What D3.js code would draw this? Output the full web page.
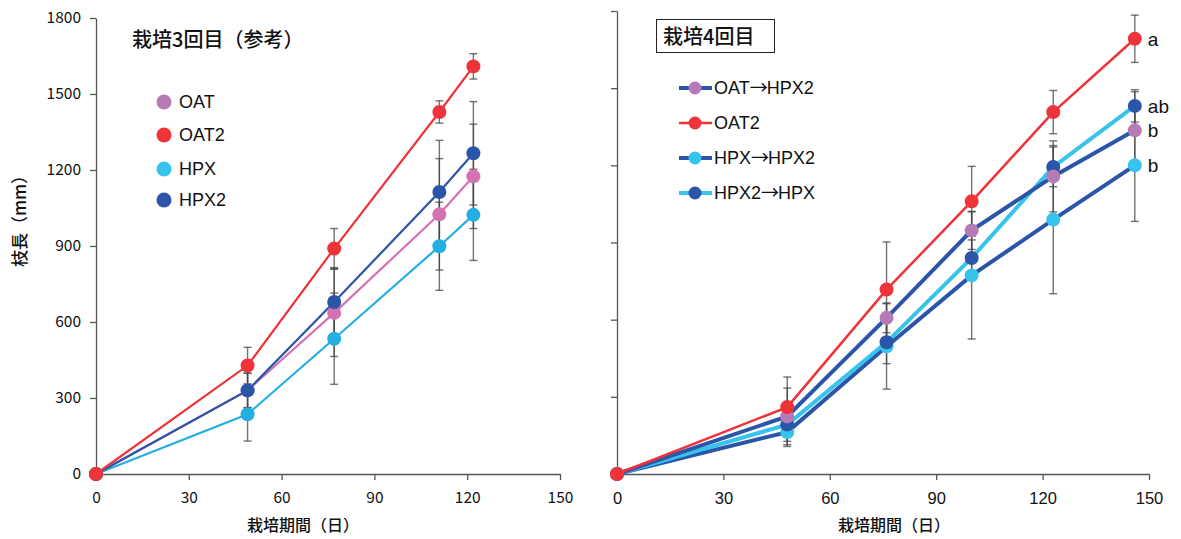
<!DOCTYPE html>
<html>
<head>
<meta charset="utf-8">
<script src="https://cdn.jsdelivr.net/npm/d3@7"></script>
<style>
  body { margin: 0; background: #fff; }
  svg { display: block; }
</style>
</head>
<body>
<svg id="svg1" width="1181" height="539"></svg>
<script>
// ---- data: 栽培3回目 (left)
var daysL = [0, 49, 77, 111, 122];
var namesL = ["OAT", "OAT2", "HPX", "HPX2"];
var valsL = {
  "OAT":  [0, 330, 636, 1025, 1175],
  "OAT2": [0, 428, 890, 1429, 1609],
  "HPX":  [0, 236, 534, 899, 1023],
  "HPX2": [0, 330, 679, 1113, 1266]
};
var errL = {
  "OAT":  [0, 68, 172, 220, 206],
  "OAT2": [0, 72, 79, 44, 50],
  "HPX":  [0, 106, 180, 174, 180],
  "HPX2": [0, 68, 136, 204, 204]
};

// ---- data: 栽培4回目 (right)
var daysR = [0, 48, 76, 100, 123, 146];
var namesR = ["OAT→HPX2", "OAT2", "HPX→HPX2", "HPX2→HPX"];
var valsR = {
  "OAT→HPX2": [0, 224, 607, 947, 1157, 1336],
  "OAT2":     [0, 260, 717, 1060, 1407, 1692],
  "HPX→HPX2": [0, 163, 496, 772, 989, 1200],
  "HPX2→HPX": [0, 192, 512, 840, 1194, 1431]
};
var errR = {
  "OAT→HPX2": [0, 110, 58, 74, 138, 150],
  "OAT2":     [0, 117, 185, 136, 84, 92],
  "HPX→HPX2": [0, 56, 166, 247, 288, 218],
  "HPX2→HPX": [0, 65, 83, 70, 77, 63]
};
var letters = {"OAT2": "a", "HPX2→HPX": "ab", "OAT→HPX2": "b", "HPX→HPX2": "b"};
var yTicks = [0, 300, 600, 900, 1200, 1500, 1800];
var xTicks = [0, 30, 60, 90, 120, 150];

var red = "#ee3339", navy = "#2b55a8", sky = "#25aee2", pink = "#d472b2";
var skyR = "#36c3ec", purple = "#b67bb7";

// left styles
var lineL = {"OAT": pink, "OAT2": red, "HPX": sky, "HPX2": navy};
var dotL  = {"OAT": pink, "OAT2": red, "HPX": sky, "HPX2": navy};
var legDotL = {"OAT": purple, "OAT2": red, "HPX": skyR, "HPX2": navy};
// right styles
var lineR = {"OAT→HPX2": navy, "OAT2": red, "HPX→HPX2": navy, "HPX2→HPX": skyR};
var dotR  = {"OAT→HPX2": purple, "OAT2": red, "HPX→HPX2": skyR, "HPX2→HPX": navy};
var widthR = {"OAT→HPX2": 4, "OAT2": 2.5, "HPX→HPX2": 4, "HPX2→HPX": 4};

var svg = d3.select("#svg1");
var jp = "'Noto Sans CJK JP', sans-serif";
var lat = "'Liberation Sans', 'Noto Sans CJK JP', sans-serif";

// ---------- LEFT ----------
var xL = d3.scaleLinear().domain([0, 150]).range([96, 560]);
var yL = d3.scaleLinear().domain([0, 1800]).range([474, 18]);

var gL = svg.append("g");
gL.append("g").attr("transform", "translate(96,0)")
  .call(d3.axisLeft(yL).tickValues(yTicks).tickFormat(d3.format("d")).tickSize(6).tickSizeOuter(0).tickPadding(9))
  .call(g => g.selectAll("text").style("font-family", jp).style("font-size", "15.5px").attr("fill", "#111"))
  .call(g => g.selectAll("line,path").attr("stroke", "#555").attr("stroke-width", 1.3));
gL.append("g").attr("transform", "translate(0,474)")
  .call(d3.axisBottom(xL).tickValues(xTicks).tickSize(6).tickSizeOuter(0).tickPadding(12))
  .call(g => g.selectAll("text").style("font-family", jp).style("font-size", "15.5px").attr("fill", "#111"))
  .call(g => g.selectAll("line,path").attr("stroke", "#555").attr("stroke-width", 1.3));

function drawSeries(g, names, days, vals, errs, x, y, lineC, dotC, lw, r) {
  names.forEach(function(n) {
    days.forEach(function(d, i) {
      if (errs[n][i] === 0) return;
      var v = vals[n][i], e = errs[n][i];
      g.append("line").attr("x1", x(d)).attr("x2", x(d))
        .attr("y1", y(v - e)).attr("y2", y(v + e))
        .attr("stroke", "#444").attr("stroke-opacity", 0.75).attr("stroke-width", 1.4);
      [v - e, v + e].forEach(function(t) {
        g.append("line").attr("x1", x(d) - 4).attr("x2", x(d) + 4)
          .attr("y1", y(t)).attr("y2", y(t))
          .attr("stroke", "#444").attr("stroke-opacity", 0.75).attr("stroke-width", 1.4);
      });
    });
  });
  var line = d3.line().x(function(p) { return x(p[0]); }).y(function(p) { return y(p[1]); });
  names.forEach(function(n) {
    g.append("path").datum(days.map(function(d, i) { return [d, vals[n][i]]; }))
      .attr("d", line).attr("fill", "none")
      .attr("stroke", lineC[n]).attr("stroke-width", typeof lw === "number" ? lw : lw[n]);
  });
  names.forEach(function(n) {
    g.selectAll(null).data(days.map(function(d, i) { return [d, vals[n][i]]; }))
      .join("circle")
      .attr("cx", function(p) { return x(p[0]); })
      .attr("cy", function(p) { return y(p[1]); })
      .attr("r", r).attr("fill", dotC[n]);
  });
}

drawSeries(gL, ["OAT", "HPX", "HPX2", "OAT2"], daysL, valsL, errL, xL, yL, lineL, dotL, 2.2, 7);

gL.append("text").attr("x", 132).attr("y", 47).text("栽培3回目（参考）")
  .style("font-family", jp).style("font-size", "20px").style("font-weight", "500").attr("fill", "#111");
namesL.forEach(function(n, i) {
  var cy = [102, 135, 169, 200][i];
  gL.append("circle").attr("cx", 164).attr("cy", cy).attr("r", 7.5).attr("fill", legDotL[n]);
  gL.append("text").attr("x", 179).attr("y", cy + 6).text(n)
    .style("font-family", lat).style("font-size", "18px").attr("fill", "#111");
});
gL.append("text").attr("transform", "translate(26,217) rotate(-90)")
  .attr("text-anchor", "middle").text("枝長（mm）")
  .style("font-family", jp).style("font-size", "17px").style("font-weight", "500").attr("fill", "#111");
gL.append("text").attr("x", 303).attr("y", 531).attr("text-anchor", "middle").text("栽培期間（日）")
  .style("font-family", jp).style("font-size", "16px").style("font-weight", "500").attr("fill", "#111");

// ---------- RIGHT ----------
var xR = d3.scaleLinear().domain([0, 150]).range([617, 1149]);
var yR = d3.scaleLinear().domain([0, 1800]).range([474, 11]);

var gR = svg.append("g");
gR.append("g").attr("transform", "translate(617,0)")
  .call(d3.axisLeft(yR).tickValues(yTicks).tickSize(6).tickSizeOuter(0).tickFormat(""))
  .call(g => g.selectAll("line,path").attr("stroke", "#555").attr("stroke-width", 1.3));
gR.append("g").attr("transform", "translate(0,474)")
  .call(d3.axisBottom(xR).tickValues(xTicks).tickSize(6).tickSizeOuter(0).tickPadding(12))
  .call(g => g.selectAll("text").style("font-family", lat).style("font-size", "16.5px").attr("fill", "#111"))
  .call(g => g.selectAll("line,path").attr("stroke", "#555").attr("stroke-width", 1.3));

drawSeries(gR, ["HPX→HPX2", "HPX2→HPX", "OAT→HPX2", "OAT2"], daysR, valsR, errR, xR, yR, lineR, dotR, widthR, 7);

namesR.forEach(function(n) {
  var last = valsR[n].length - 1;
  gR.append("text").attr("x", xR(daysR[last]) + 13).attr("y", yR(valsR[n][last]) + 7)
    .text(letters[n]).style("font-family", lat).style("font-size", "19px").attr("fill", "#111");
});

gR.append("rect").attr("x", 656.5).attr("y", 19.5).attr("width", 118).attr("height", 33)
  .attr("fill", "#fff").attr("stroke", "#222").attr("stroke-width", 1);
gR.append("text").attr("x", 663).attr("y", 44).text("栽培4回目")
  .style("font-family", jp).style("font-size", "20px").style("font-weight", "500").attr("fill", "#111");
namesR.forEach(function(n, i) {
  var cy = [88, 123, 158, 193][i];
  gR.append("line").attr("x1", 679).attr("x2", 712).attr("y1", cy).attr("y2", cy)
    .attr("stroke", lineR[n]).attr("stroke-width", widthR[n]);
  gR.append("circle").attr("cx", 695).attr("cy", cy).attr("r", 6.5).attr("fill", dotR[n]);
  var t = gR.append("text").attr("x", 714).attr("y", cy + 6)
    .style("font-family", lat).style("font-size", "18px").attr("fill", "#111");
  n.split("→").forEach(function(part, k) {
    if (k > 0) t.append("tspan").style("font-family", jp).attr("letter-spacing", "-1px").text("→");
    t.append("tspan").text(part);
  });
});
gR.append("text").attr("x", 894).attr("y", 531).attr("text-anchor", "middle").text("栽培期間（日）")
  .style("font-family", jp).style("font-size", "16px").style("font-weight", "500").attr("fill", "#111");
</script>
</body>
</html>
